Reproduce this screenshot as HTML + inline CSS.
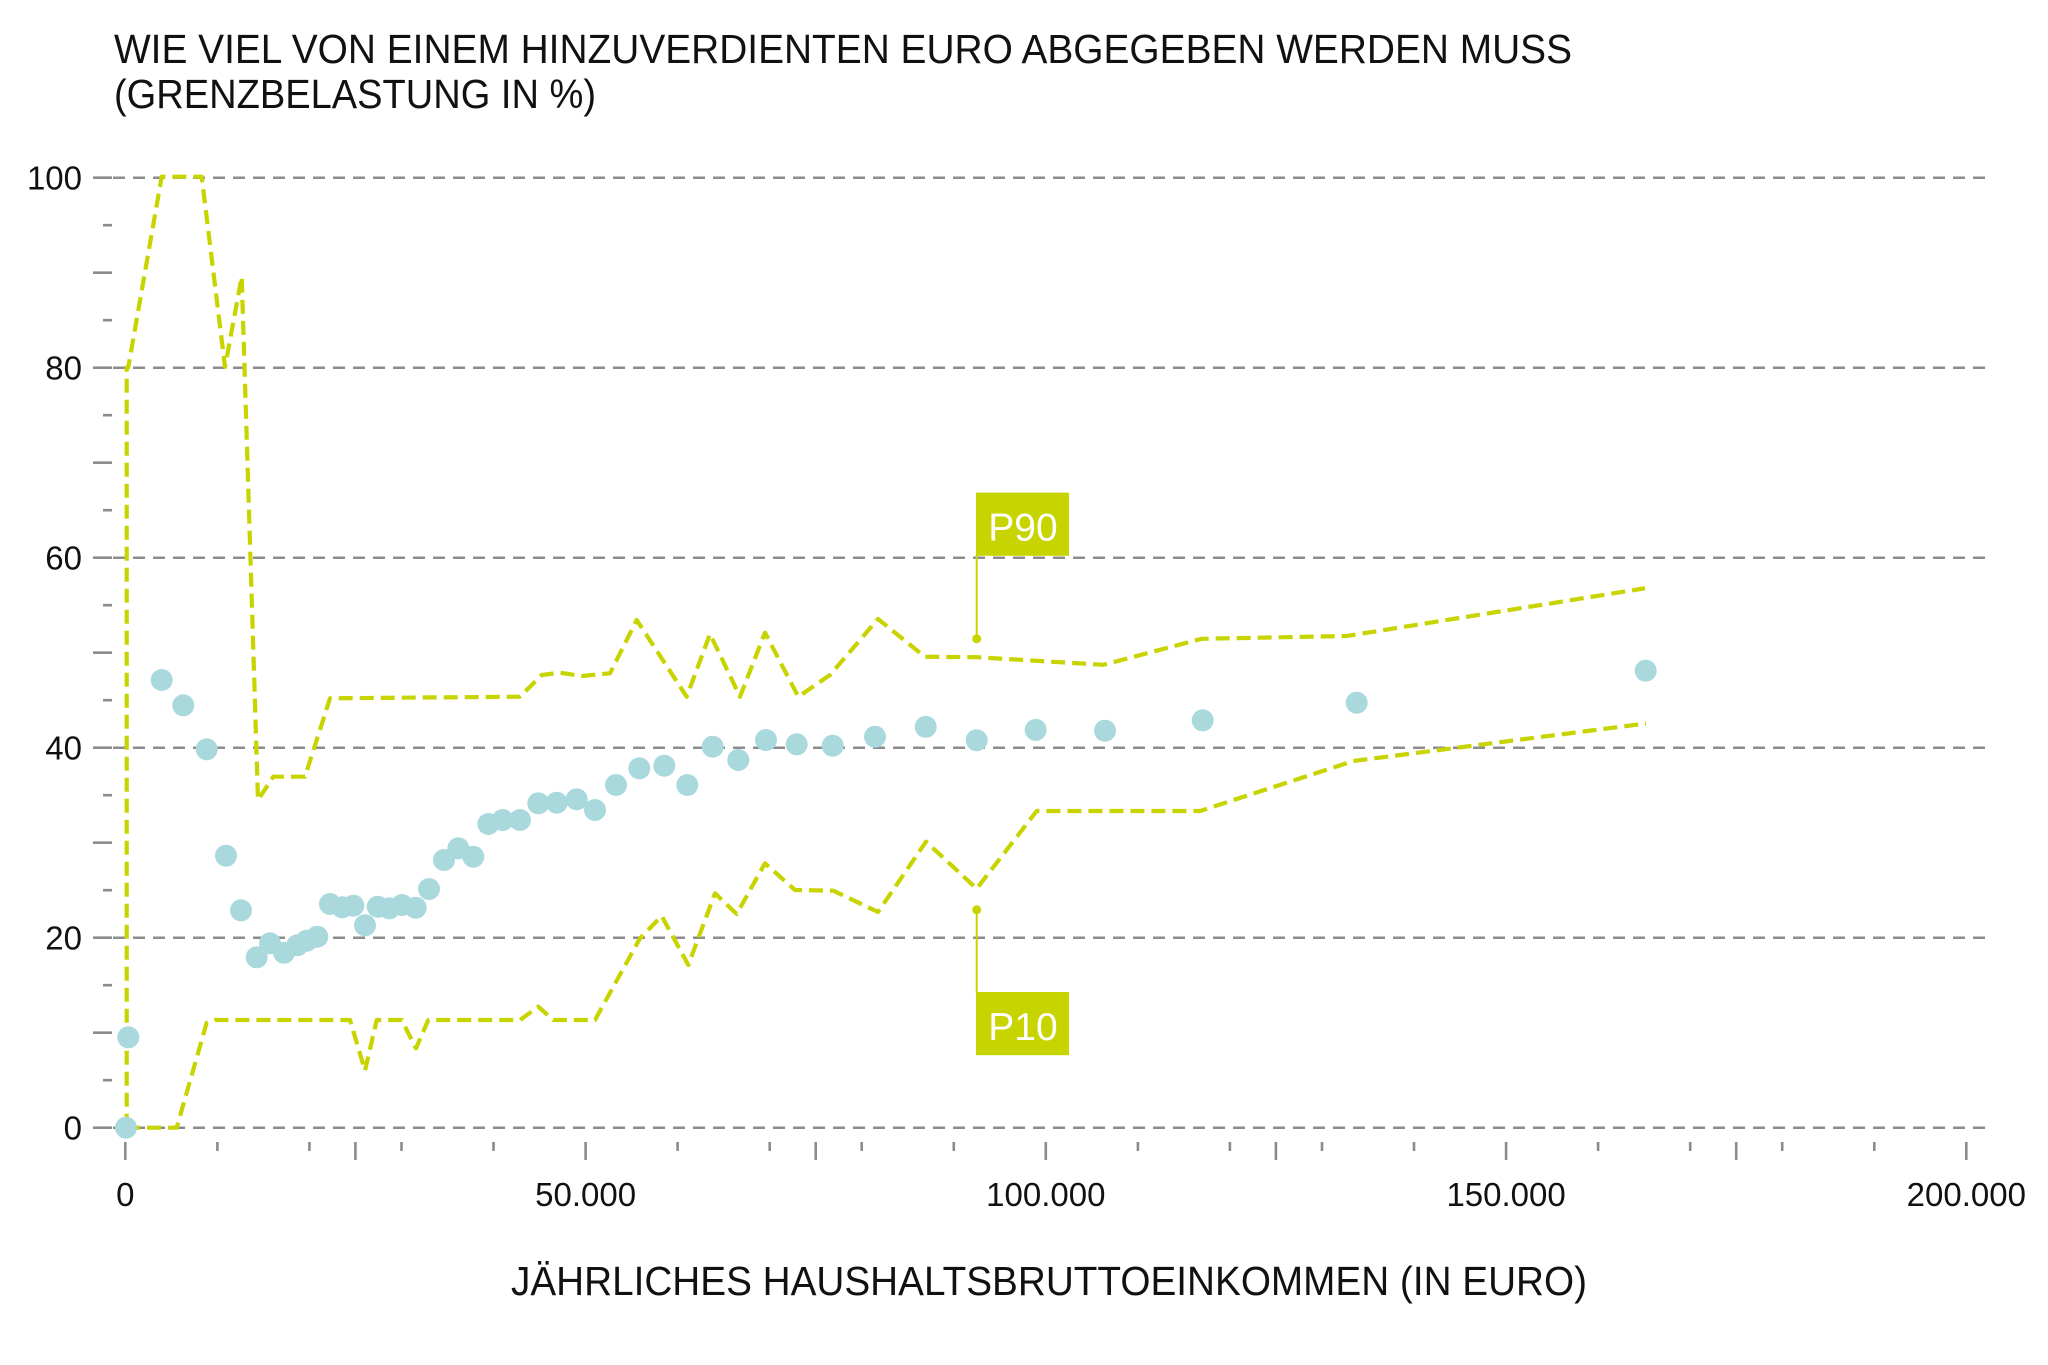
<!DOCTYPE html>
<html>
<head>
<meta charset="utf-8">
<style>
html,body{margin:0;padding:0;background:#fff}
svg{display:block}
text{font-family:"Liberation Sans",sans-serif}
</style>
</head>
<body>
<svg width="2048" height="1365" viewBox="0 0 2048 1365" xmlns="http://www.w3.org/2000/svg">
<rect width="2048" height="1365" fill="#fff"/>
<text x="114" y="63" font-size="41" fill="#111" textLength="1458" lengthAdjust="spacingAndGlyphs">WIE VIEL VON EINEM HINZUVERDIENTEN EURO ABGEGEBEN WERDEN MUSS</text>
<text x="114" y="108" font-size="41" fill="#111" textLength="482" lengthAdjust="spacingAndGlyphs">(GRENZBELASTUNG IN %)</text>
<path d="M113 177.7H1987M113 367.7H1987M113 557.7H1987M113 747.7H1987M113 937.7H1987M113 1127.7H1987" stroke="#8c8c8c" stroke-width="2.5" stroke-dasharray="12 8" fill="none"/>
<path d="M93 177.7h19M93 272.7h19M93 367.7h19M93 462.7h19M93 557.7h19M93 652.7h19M93 747.7h19M93 842.7h19M93 937.7h19M93 1032.7h19M93 1127.7h19" stroke="#8c8c8c" stroke-width="2.6"/>
<path d="M103 225.2h9M103 320.2h9M103 415.2h9M103 510.2h9M103 605.2h9M103 700.2h9M103 795.2h9M103 890.2h9M103 985.2h9M103 1080.2h9" stroke="#8c8c8c" stroke-width="2.6"/>
<g font-size="33" fill="#111" text-anchor="end">
<text x="82" y="189.5">100</text>
<text x="82" y="379.5">80</text>
<text x="82" y="569.5">60</text>
<text x="82" y="759.5">40</text>
<text x="82" y="949.5">20</text>
<text x="82" y="1139.5">0</text>
</g>
<path d="M125.3 1142v18M355.4 1142v18M585.6 1142v18M815.7 1142v18M1045.8 1142v18M1275.9 1142v18M1506.1 1142v18M1736.2 1142v18M1966.3 1142v18" stroke="#8c8c8c" stroke-width="2.6"/>
<path d="M217.4 1142v9M309.4 1142v9M401.5 1142v9M493.5 1142v9M677.6 1142v9M769.7 1142v9M861.7 1142v9M953.8 1142v9M1137.9 1142v9M1229.9 1142v9M1322 1142v9M1414 1142v9M1598.1 1142v9M1690.2 1142v9M1782.2 1142v9M1874.3 1142v9" stroke="#8c8c8c" stroke-width="2.6"/>
<g font-size="33" fill="#111" text-anchor="middle">
<text x="125.3" y="1206">0</text>
<text x="585.6" y="1206">50.000</text>
<text x="1045.8" y="1206">100.000</text>
<text x="1506.1" y="1206">150.000</text>
<text x="1966.3" y="1206">200.000</text>
</g>
<text x="511" y="1295" font-size="41" fill="#111" textLength="1076" lengthAdjust="spacingAndGlyphs">JÄHRLICHES HAUSHALTSBRUTTOEINKOMMEN (IN EURO)</text>
<polyline fill="none" stroke="#c8d400" stroke-width="4.2" stroke-dasharray="14 7" stroke-linejoin="round" points="126.7,1127.7 126.7,367.5 128.3,367.3 161.7,176.7 201.7,176.7 225,367 241.7,276.7 258,800 273.3,776.7 305,776.7 330,698.3 520,696.7 541.7,675 560,672.7 581.7,676 610,673.3 636.7,620 686.7,696.7 710,634 740,696.7 765,632.7 798.3,696.7 830,675 878,619 925,656.8 976.7,657.2 1103.3,664.8 1201.7,638.8 1346.7,636 1645,588.3"/>
<polyline fill="none" stroke="#c8d400" stroke-width="4.2" stroke-dasharray="14 7" stroke-linejoin="round" points="126,1127.7 176.7,1127.7 206.7,1022.7 215,1020 350,1020 365,1070.7 376.7,1020 401.7,1020 416,1048.3 428.3,1020 520,1020 538.3,1006.7 553.3,1020 595,1020 640,938.3 661.7,916 688.3,965 715,893.3 736.7,914 765,863.3 795,890 833.3,890.7 878,912 926,841.7 976.7,888.7 1036.7,811 1200,811 1353.3,761 1646,723.5"/>
<path fill="none" stroke="#a9d9dc" stroke-width="22" stroke-linecap="round" d="M126 1127.7h0M128.3 1037.3h0M161.7 680h0M183.3 705.3h0M206.7 749.3h0M226 855.7h0M241 910.3h0M256.7 957.3h0M270 943.3h0M284 952.7h0M297.3 945.3h0M306.7 940.7h0M317.3 936.7h0M330 904h0M342.3 907.3h0M353.3 905.7h0M365 925.3h0M377.7 906.7h0M389.3 908.3h0M402 905h0M415.7 907.7h0M429 889h0M444 860h0M458.3 848.3h0M473.3 856.7h0M488.3 824h0M502.7 820h0M520 820h0M538.3 803.3h0M556.7 802.7h0M576.7 799.3h0M595 810h0M616 785h0M639.3 768.3h0M664.3 765.7h0M687.3 785h0M712.7 746.7h0M738.3 760h0M766 740h0M796.7 744.3h0M832.7 745.7h0M875 736.7h0M925.7 726.8h0M976.7 740.2h0M1035.7 729.9h0M1105 730.7h0M1202.7 720.3h0M1356.7 702.7h0M1645.7 670.7h0"/>
<path d="M976.7 555V638.8M976.7 909.8V993" stroke="#c8d400" stroke-width="2"/>
<circle cx="976.7" cy="638.8" r="4.5" fill="#c8d400"/>
<circle cx="976.7" cy="909.8" r="4.5" fill="#c8d400"/>
<rect x="976" y="492.6" width="93" height="63.2" fill="#c8d400"/>
<text x="988.3" y="540.5" font-size="39" fill="#fff">P90</text>
<rect x="976" y="992" width="93" height="63.2" fill="#c8d400"/>
<text x="988.3" y="1039.9" font-size="39" fill="#fff">P10</text>
</svg>
</body>
</html>
